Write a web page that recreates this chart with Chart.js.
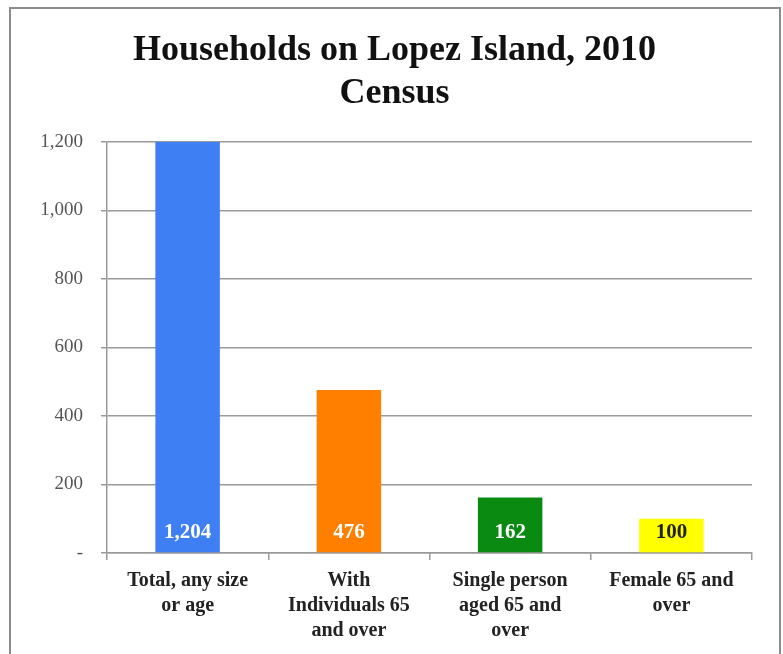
<!DOCTYPE html>
<html>
<head>
<meta charset="utf-8">
<script src="https://cdn.jsdelivr.net/npm/chart.js@4.4.0/dist/chart.umd.min.js"></script>
<style>
  html, body { margin: 0; padding: 0; background: #fff; overflow: hidden; }
  #frame { position: absolute; left: 9px; top: 7px; width: 768px; height: 700px; border: 2px solid #8c8c8c; }
  #wrap { position: absolute; left: 0; top: 0; width: 783px; height: 654px; }
</style>
</head>
<body>
<div id="frame"></div>
<div id="wrap"><canvas id="lopezChart" width="783" height="654"></canvas></div>
<script>
// categories and values
const categories = [
    ['Total, any size', 'or age'],
    ['With', 'Individuals 65', 'and over'],
    ['Single person', 'aged 65 and', 'over'],
    ['Female 65 and', 'over']
];
const households = [1204, 476, 162, 100];
const barColors = ['#3f7ff4', '#ff7f00', '#0b8a12', '#ffff00'];
const labelColors = ['#ffffff', '#ffffff', '#ffffff', '#222222'];
const yTicks = [0, 200, 400, 600, 800, 1000, 1200];

const serif = "'Liberation Serif', 'DejaVu Serif', serif";

// writes the value near the bottom of each bar
const valueLabels = {
    id: 'valueLabels',
    afterDatasetsDraw(chart) {
        const ctx = chart.ctx;
        const meta = chart.getDatasetMeta(0);
        ctx.save();
        ctx.font = 'bold 21px ' + serif;
        ctx.textAlign = 'center';
        ctx.textBaseline = 'middle';
        meta.data.forEach((bar, i) => {
            ctx.fillStyle = labelColors[i];
            ctx.fillText(households[i].toLocaleString('en-US'), bar.x, bar.base - 20);
        });
        ctx.restore();
    }
};

function createLopezChart() {
    const ctx = document.getElementById('lopezChart').getContext('2d');
    new Chart(ctx, {
        type: 'bar',
        data: {
            labels: categories,
            datasets: [{
                data: households,
                backgroundColor: barColors,
                borderWidth: 0,
                barPercentage: 0.4,
                categoryPercentage: 1.0
            }]
        },
        options: {
            responsive: false,
            animation: false,
            layout: {
                // left padding keeps the title centred on the frame
                padding: { left: 37, right: 31, top: 0, bottom: 0 }
            },
            plugins: {
                legend: { display: false },
                tooltip: { enabled: false },
                title: {
                    display: true,
                    text: ['Households on Lopez Island, 2010', 'Census'],
                    color: '#111',
                    font: { family: serif, size: 36, weight: 'bold', lineHeight: '43px' },
                    padding: { top: 29, bottom: 27 }
                }
            },
            scales: {
                x: {
                    border: { color: '#9a9a9a', width: 1.5 },
                    grid: {
                        drawOnChartArea: false,
                        drawTicks: true,
                        tickLength: 7,
                        color: '#9a9a9a',
                        lineWidth: 1.5
                    },
                    ticks: {
                        color: '#222',
                        padding: 8,
                        maxRotation: 0,
                        autoSkip: false,
                        font: { family: serif, size: 20, weight: 'bold', lineHeight: '25px' }
                    },
                    afterFit(scale) { scale.height = 101; }
                },
                y: {
                    min: 0,
                    max: 1200,
                    afterBuildTicks(scale) { scale.ticks = yTicks.map(v => ({ value: v })); },
                    border: { color: '#9a9a9a', width: 1.5 },
                    grid: {
                        color: '#9a9a9a',
                        lineWidth: 1.5,
                        tickLength: 6
                    },
                    ticks: {
                        color: '#555',
                        padding: 18,
                        font: { family: serif, size: 19 },
                        callback: v => v === 0 ? '-' : v.toLocaleString('en-US')
                    },
                    afterFit(scale) { scale.width = 70; }
                }
            }
        },
        plugins: [valueLabels]
    });
}

createLopezChart();
</script>
</body>
</html>
